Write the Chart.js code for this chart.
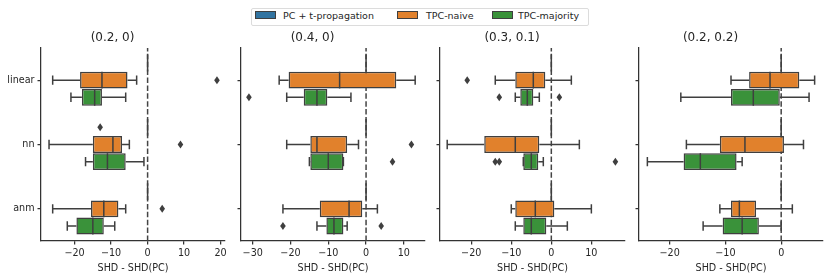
<!DOCTYPE html>
<html>
<head>
<meta charset="utf-8">
<script src="https://cdn.jsdelivr.net/npm/chart.js@4.4.1/dist/chart.umd.min.js"></script>
<style>
  body { margin: 0; background: #fff; width: 830px; height: 279px; position: relative; overflow: hidden; font-family: "DejaVu Sans", sans-serif; }
  .panel { position: absolute; top: 0; }
  .legend { position: absolute; left: 251px; top: 8px; width: 336px; height: 16px; border: 1px solid #dcdcdc; border-radius: 2px; }
  .lg-patch { position: absolute; top: 12px; width: 19px; height: 6px; border: 1px solid #3f3f3f; }
  .lg-text { position: absolute; top: 10px; font-size: 9.5px; line-height: 11px; color: #262626; white-space: nowrap; }
</style>
</head>
<body>
<div class="legend"></div>
<script>
const categories = ['linear', 'nn', 'anm']
const seriesNames = ['PC + t-propagation', 'TPC-naive', 'TPC-majority']
const seriesColors = ['#3274a1', '#e1812c', '#3a923a']
const panelTitles = ['(0.2, 0)', '(0.4, 0)', '(0.3, 0.1)', '(0.2, 0.2)']
const xLimits = [[-29.2, 21.2], [-33.1, 15.6], [-27.8, 18.4], [-25.5, 7.5]]
const xTicks = [[-20, -10, 0, 10, 20], [-30, -20, -10, 0, 10], [-20, -10, 0, 10], [-20, -10, 0]]

// each box: [lower whisker, q1, median, q3, upper whisker], one per category
const p1Prop = [[0, 0, 0, 0, 0], [0, 0, 0, 0, 0], [0, 0, 0, 0, 0]]
const p1Naive = [[-26, -18.5, -12.5, -5.5, -3], [-27, -15, -9.5, -7, -5], [-26, -15.5, -12, -8, -6]]
const p1Major = [[-21, -18, -14.5, -12.5, -6], [-17, -15, -11, -6, -1], [-22, -19.5, -15, -12, -9]]
const p1PropOut = [[], [-13], []]
const p1NaiveOut = [[19], [9], [4]]
const p1MajorOut = [[], [], []]

const p2Prop = [[0, 0, 0, 0, 0], [0, 0, 0, 0, 0], [0, 0, 0, 0, 0]]
const p2Naive = [[-23, -20.5, -7, 8, 13], [-21, -14.75, -13, -5, -2], [-22, -12.25, -4.5, -1, 3]]
const p2Major = [[-21, -16.5, -13, -10.25, -4], [-15, -14.75, -10, -6, -6], [-13, -10.5, -8.5, -6, -5]]
const p2PropOut = [[], [], []]
const p2NaiveOut = [[], [12], []]
const p2MajorOut = [[-31], [7], [-22, 4]]

const p3Prop = [[0, 0, 0, 0, 0], [0, 0, 0, 0, 0], [0, 0, 0, 0, 0]]
const p3Naive = [[-14, -9, -4.5, -1.5, 5], [-26, -16.75, -9, -3, 7], [-10, -9, -4, 0.75, 10]]
const p3Major = [[-9, -7.75, -6, -4.5, -3], [-7, -7, -5, -3.25, -2], [-9, -7, -5, -1.25, 4]]
const p3PropOut = [[], [], []]
const p3NaiveOut = [[-21], [], []]
const p3MajorOut = [[-13, 2], [-14, -13, 16], []]

const p4Prop = [[0, 0, 0, 0, 0], [0, 0, 0, 0, 0], [0, 0, 0, 0, 0]]
const p4Naive = [[-9, -5.75, -2, 3.25, 6], [-17, -11, -6.5, 0.5, 4], [-11, -9, -7.5, -4.5, 2]]
const p4Major = [[-18, -9, -5, -0.25, 5], [-24, -17.5, -14.5, -8, -7], [-14, -10.5, -7, -4, 0]]
const p4PropOut = [[], [], []]
const p4NaiveOut = [[], [], []]
const p4MajorOut = [[], [], []]

const panelBoxes = [[p1Prop, p1Naive, p1Major], [p2Prop, p2Naive, p2Major], [p3Prop, p3Naive, p3Major], [p4Prop, p4Naive, p4Major]]
const panelOutliers = [[p1PropOut, p1NaiveOut, p1MajorOut], [p2PropOut, p2NaiveOut, p2MajorOut], [p3PropOut, p3NaiveOut, p3MajorOut], [p4PropOut, p4NaiveOut, p4MajorOut]]

// axes placement in the figure
const axLefts = [41, 241, 440, 639]
const axRights = [225, 425, 625, 823]
const yAxisWidth = 41
const edgeColor = '#3f3f3f'
const axisColor = '#333333'
const textColor = '#262626'
const fontFamily = '"DejaVu Sans", sans-serif'

// legend
const legend = document.querySelector('.legend')
const patchLefts = [3, 145, 240]
const textLefts = [31, 174, 266]
seriesNames.forEach((name, i) => {
  let p = document.createElement('div')
  p.className = 'lg-patch'
  p.style.left = patchLefts[i] + 'px'
  p.style.top = '2px'
  p.style.background = seriesColors[i]
  legend.appendChild(p)
  let t = document.createElement('div')
  t.className = 'lg-text'
  t.style.left = textLefts[i] + 'px'
  t.style.top = '1px'
  t.textContent = name
  legend.appendChild(t)
})

function minusSign(v) {
  return v < 0 ? '\u2212' + Math.abs(v) : String(v)
}

const boxParts = {
  id: 'boxParts',
  beforeDatasetsDraw(chart) {
    const {ctx, chartArea, scales: {x}} = chart
    const px = x.getPixelForValue(0)
    ctx.save()
    ctx.strokeStyle = '#444444'
    ctx.lineWidth = 1.5
    ctx.setLineDash([5.5, 2.4])
    ctx.beginPath()
    ctx.moveTo(px, chartArea.bottom)
    ctx.lineTo(px, chartArea.top)
    ctx.stroke()
    ctx.restore()
  },
  afterDatasetsDraw(chart) {
    const {ctx, scales: {x}} = chart
    ctx.save()
    ctx.strokeStyle = edgeColor
    ctx.fillStyle = edgeColor
    ctx.lineWidth = 1.5
    chart.data.datasets.forEach((ds, i) => {
      const meta = chart.getDatasetMeta(i)
      meta.data.forEach((bar, j) => {
        const [lo, q1, med, q3, hi] = ds.stats[j]
        const y = bar.y
        const h = bar.height
        const cap = h * 0.28
        ctx.beginPath()
        // whiskers
        ctx.moveTo(x.getPixelForValue(q1), y)
        ctx.lineTo(x.getPixelForValue(lo), y)
        ctx.moveTo(x.getPixelForValue(q3), y)
        ctx.lineTo(x.getPixelForValue(hi), y)
        // caps
        ctx.moveTo(x.getPixelForValue(lo), y - cap)
        ctx.lineTo(x.getPixelForValue(lo), y + cap)
        ctx.moveTo(x.getPixelForValue(hi), y - cap)
        ctx.lineTo(x.getPixelForValue(hi), y + cap)
        // median
        ctx.moveTo(x.getPixelForValue(med), y - h / 2)
        ctx.lineTo(x.getPixelForValue(med), y + h / 2)
        ctx.stroke()
        // outliers as thin diamonds
        ds.outliers[j].forEach(v => {
          const ox = x.getPixelForValue(v)
          ctx.beginPath()
          ctx.moveTo(ox, y - 4)
          ctx.lineTo(ox + 2.8, y)
          ctx.lineTo(ox, y + 4)
          ctx.lineTo(ox - 2.8, y)
          ctx.closePath()
          ctx.fill()
        })
      })
    })
    ctx.restore()
  }
}

function makePanel(k) {
  const canvas = document.createElement('canvas')
  const left = axLefts[k] - yAxisWidth
  const width = axRights[k] - axLefts[k] + yAxisWidth + 6
  canvas.width = width
  canvas.height = 279
  canvas.className = 'panel'
  canvas.style.left = left + 'px'
  canvas.style.width = width + 'px'
  canvas.style.height = '279px'
  document.body.appendChild(canvas)

  const boxes = panelBoxes[k]
  const outs = panelOutliers[k]

  return new Chart(canvas, {
    type: 'bar',
    data: {
      labels: categories,
      datasets: seriesNames.map((name, i) => ({
        label: name,
        data: boxes[i].map(b => [b[1], b[3]]),
        stats: boxes[i],
        outliers: outs[i],
        backgroundColor: seriesColors[i],
        borderColor: edgeColor,
        borderWidth: 1.5,
        borderSkipped: false,
        categoryPercentage: 0.8,
        barPercentage: 0.98
      }))
    },
    options: {
      indexAxis: 'y',
      responsive: false,
      animation: false,
      devicePixelRatio: 1,
      layout: { padding: { left: 0, right: 6, top: 0, bottom: 0 } },
      plugins: {
        legend: { display: false },
        tooltip: { enabled: false },
        title: {
          display: true,
          text: panelTitles[k],
          color: textColor,
          font: { family: fontFamily, size: 12, weight: 'normal', lineHeight: 1.2 },
          padding: { top: 30.5, bottom: 3.1 }
        }
      },
      scales: {
        x: {
          type: 'linear',
          min: xLimits[k][0],
          max: xLimits[k][1],
          afterBuildTicks: (scale) => { scale.ticks = xTicks[k].map(v => ({ value: v })) },
          afterFit: (scale) => { scale.height = 38 },
          grid: { drawOnChartArea: false, drawTicks: true, tickLength: 3.5, color: axisColor, lineWidth: 1.25 },
          border: { display: true, color: axisColor, width: 1.25 },
          ticks: { padding: 3, color: textColor, font: { family: fontFamily, size: 9.6 }, maxRotation: 0, callback: (v) => minusSign(v) },
          title: { display: true, text: 'SHD - SHD(PC)', color: textColor, font: { family: fontFamily, size: 9.6 }, padding: { top: 0, bottom: 5 } }
        },
        y: {
          type: 'category',
          afterFit: (scale) => { scale.width = yAxisWidth },
          grid: { offset: false, drawOnChartArea: false, drawTicks: true, tickLength: 3.5, color: axisColor, lineWidth: 1.25 },
          border: { display: true, color: axisColor, width: 1.25 },
          ticks: { display: k === 0, padding: 3, color: textColor, font: { family: fontFamily, size: 9.6 } }
        }
      }
    },
    plugins: [boxParts]
  })
}

for (let k = 0; k < 4; k++) {
  makePanel(k)
}
</script>
</body>
</html>
